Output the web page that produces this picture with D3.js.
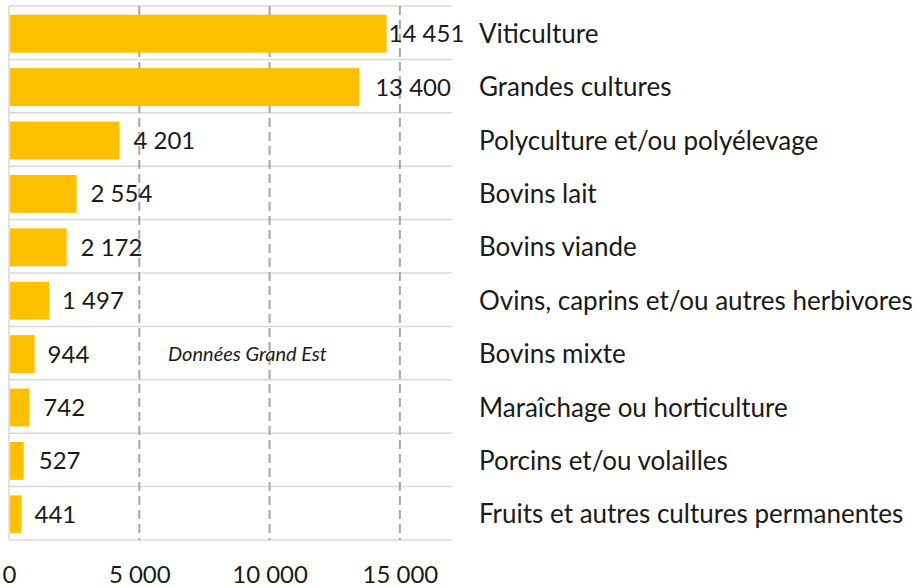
<!DOCTYPE html>
<html>
<head>
<meta charset="utf-8">
<script src="https://cdn.jsdelivr.net/npm/d3@7"></script>
<style>
  html, body { margin: 0; padding: 0; background: #fff; }
  svg { display: block; }
  text { font-family: Lato, "Open Sans", sans-serif; fill: #1a1a1a; }
</style>
</head>
<body>
<svg id="chart" width="917" height="587"></svg>
<script>
const categories = [
  "Viticulture",
  "Grandes cultures",
  "Polyculture et/ou polyélevage",
  "Bovins lait",
  "Bovins viande",
  "Ovins, caprins et/ou autres herbivores",
  "Bovins mixte",
  "Maraîchage ou horticulture",
  "Porcins et/ou volailles",
  "Fruits et autres cultures permanentes"
];
const values = [14451, 13400, 4201, 2554, 2172, 1497, 944, 742, 527, 441];
const tickValues = [0, 5000, 10000, 15000];
const annotation = "Données Grand Est";
// label nudges (px) after bar end, as placed in the original
const labelDx = [3, 17, 15, 15, 15, 14, 14, 15, 16, 14];

const svg = d3.select("#chart");
const frLocale = d3.formatLocale({decimal: ",", thousands: "\u00a0", grouping: [3], currency: ["", " €"]});
const fmt = frLocale.format(",d");

const x = d3.scaleLinear().domain([0, 17000]).range([9, 452]);
const y = d3.scaleBand().domain(categories).range([6, 540]).paddingInner(0.29).paddingOuter(0.145);

const FS = 24;
const CAT_FS = 26;

// horizontal grid lines at band boundaries
const bounds = d3.range(categories.length + 1).map(i => y.range()[0] + i * y.step());
svg.append("g").selectAll("line").data(bounds).join("line")
  .attr("x1", x(0)).attr("x2", x.range()[1])
  .attr("y1", d => d).attr("y2", d => d)
  .attr("stroke", "#d9d9d9").attr("stroke-width", 1.5);

// left axis line
svg.append("line")
  .attr("x1", x(0)).attr("x2", x(0))
  .attr("y1", bounds[0]).attr("y2", bounds[bounds.length - 1])
  .attr("stroke", "#d9d9d9").attr("stroke-width", 1.5);

// vertical dashed grid
svg.append("g").selectAll("line").data(tickValues.filter(d => d > 0)).join("line")
  .attr("x1", d => x(d)).attr("x2", d => x(d))
  .attr("y1", bounds[0]).attr("y2", bounds[bounds.length - 1])
  .attr("stroke", "#a6a6a6").attr("stroke-width", 2)
  .attr("stroke-dasharray", "9,5");

// bars
svg.append("g").selectAll("rect").data(values).join("rect")
  .attr("x", x(0) + 1)
  .attr("y", (d, i) => y(categories[i]) + 1)
  .attr("width", d => x(d) - x(0))
  .attr("height", y.bandwidth())
  .attr("fill", "#ffc000");

// value labels
svg.append("g").selectAll("text").data(values).join("text")
  .attr("x", (d, i) => x(d) + labelDx[i])
  .attr("y", (d, i) => y(categories[i]) + y.bandwidth() / 2 + 1)
  .attr("dy", "0.35em")
  .attr("font-size", FS)
  .text(d => fmt(d));

// category labels on the right
svg.append("g").selectAll("text").data(categories).join("text")
  .attr("x", 479)
  .attr("y", d => y(d) + y.bandwidth() / 2 + 1)
  .attr("dy", "0.35em")
  .attr("font-size", CAT_FS)
  .text(d => d);

// annotation
svg.append("text")
  .attr("x", 168)
  .attr("y", y(categories[6]) + y.bandwidth() / 2 + 1)
  .attr("dy", "0.35em")
  .attr("font-size", 20)
  .attr("font-style", "italic")
  .text(annotation);

// x axis
const axis = d3.axisBottom(x).tickValues(tickValues).tickFormat(d => fmt(d)).tickSize(0).tickPadding(0);
const gx = svg.append("g").attr("transform", "translate(0,575)").call(axis);
gx.select(".domain").remove();
gx.selectAll("text").attr("font-size", FS).attr("font-family", "Lato, 'Open Sans', sans-serif")
  .attr("fill", "#1a1a1a").attr("dy", "0.35em").attr("y", 0);
</script>
</body>
</html>
